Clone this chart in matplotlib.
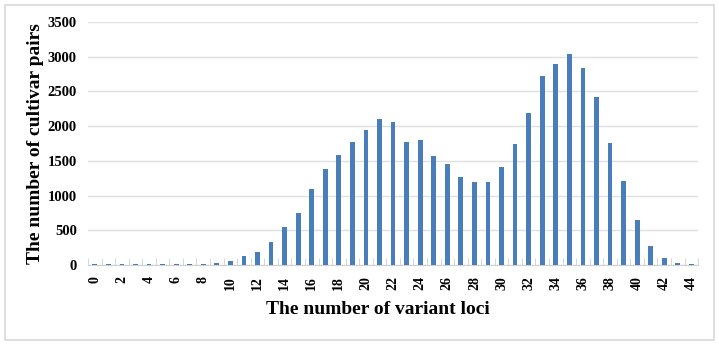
import matplotlib
matplotlib.use('Agg')
import matplotlib.pyplot as plt
from matplotlib.patches import Rectangle
import numpy as np

# Dane
loci = list(range(45))
pairs = [20, 10, 15, 10, 15, 15, 10, 15, 15, 30,
         55, 125, 180, 336, 547, 743, 1088, 1385, 1582, 1774,
         1946, 2100, 2057, 1774, 1802, 1577, 1453, 1261, 1198, 1189,
         1414, 1740, 2186, 2718, 2900, 3034, 2843, 2416, 1764, 1208,
         642, 273, 96, 29, 10]
tick_labels = [str(i) if i % 2 == 0 else '' for i in loci]

plt.rcParams['font.family'] = ['Liberation Serif', 'DejaVu Serif']
plt.rcParams['font.weight'] = 'bold'

fig = plt.figure(figsize=(7.19, 3.45), dpi=100)
ax = fig.add_axes([0.1224, 0.232, 0.8486, 0.704])

# Ramka wokol calego rysunku
fig.patches.append(Rectangle((0.007, 0.014), 0.986, 0.972, transform=fig.transFigure,
                             fill=False, edgecolor='#d9d9d9', linewidth=1.2))

x = np.arange(len(loci))
ax.bar(x, pairs, width=0.35, color='#4a7ebb', zorder=3)

ax.set_xlim(-0.5, len(loci) - 0.5)
ax.set_ylim(0, 3500)
ax.set_yticks(range(0, 3501, 500))
ax.grid(axis='y', color='#e0e0e0', linewidth=1, zorder=0)

ax.set_xticks(x)
ax.set_xticklabels(tick_labels, rotation=90, fontsize=10, fontweight='bold')
ax.tick_params(axis='x', length=0, pad=8)
# znaczniki miedzy kategoriami
ax.set_xticks(np.arange(-0.5, len(loci), 1), minor=True)
ax.tick_params(axis='x', which='minor', length=5, color='#d0d0d0', direction='in')
ax.tick_params(axis='y', length=0, labelsize=10.5, pad=8)
for lbl in ax.get_yticklabels():
    lbl.set_fontweight('bold')

for s in ['top', 'right', 'left']:
    ax.spines[s].set_visible(False)
ax.spines['bottom'].set_color('#d0d0d0')

ax.set_xlabel('The number of variant loci', fontsize=14, fontweight='bold')
ax.xaxis.set_label_coords(0.475, -0.15)
ax.set_ylabel('The number of cultivar pairs', fontsize=14, fontweight='bold')
ax.yaxis.set_label_coords(-0.072, 0.5)

fig.savefig('out.png', dpi=100)
